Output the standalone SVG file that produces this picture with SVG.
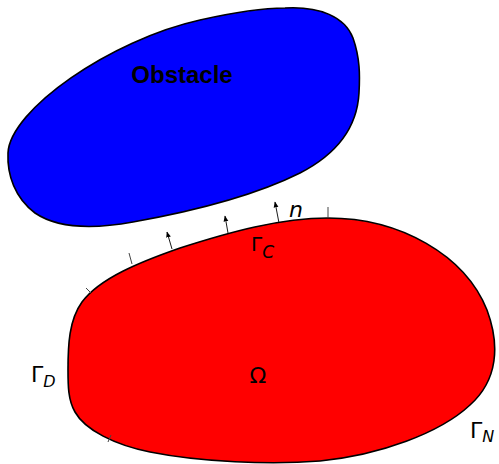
<svg xmlns="http://www.w3.org/2000/svg" width="499" height="464" viewBox="0 0 499 464">
<defs>
<marker id="ah" viewBox="0 0 10 10" refX="9" refY="5" markerWidth="6" markerHeight="6" orient="auto" markerUnits="userSpaceOnUse">
<path d="M0,1 L10,5 L0,9 Z" fill="#000"/>
</marker>
</defs>
<style>
.shape{stroke:#000;stroke-width:1.6}
.tick{stroke:#444;stroke-width:1;fill:none}
.arrow{stroke:#000;stroke-width:0.9;fill:none;marker-end:url(#ah)}
.math{font-family:"DejaVu Sans",sans-serif;fill:#000}
.lbl{font-family:"Liberation Sans",Arial,sans-serif;font-weight:bold;font-size:24px;fill:#000}
</style>
<g id="obstacle">
<path class="shape" fill="#0000ff" d="M 8,153 C 10,110 110,40 200,20 C 240,11 270,8 285,8 C 320,6 345,17 353,38 C 360,58 360,75 359,93 C 357,130 335,155 300,173 C 260,193 200,210 133,222 C 100,228 60,230 35,213 C 15,198 7,175 8,153 Z"/>
<text class="lbl" x="182" y="83" text-anchor="middle">Obstacle</text>
</g>
<g id="omega">
<path class="shape" fill="#ff0000" d="M 328,218 C 400,218 465,255 487,310 C 500,345 498,380 470,405 C 440,433 380,455 320,461 C 270,465 200,462 150,452 C 115,445 85,430 75,412 C 68,400 68,385 68,370 C 68,345 69,320 82,302 C 100,278 140,262 180,248 C 230,232 280,218 328,218 Z"/>
<text class="math" x="258" y="383" font-size="22" text-anchor="middle">Ω</text>
</g>
<g id="connectors">
<line class="tick" x1="86" y1="288" x2="91" y2="293"/>
<line class="tick" x1="129" y1="253" x2="132" y2="264"/>
<line class="tick" x1="328" y1="207" x2="328" y2="218"/>
<line class="tick" x1="108" y1="442" x2="111" y2="435"/>
<line class="arrow" x1="172" y1="249" x2="167" y2="232"/>
<line class="arrow" x1="228" y1="233" x2="225" y2="216"/>
<line class="arrow" x1="279" y1="223" x2="275" y2="202"/>
</g>
<g id="labels">
<text class="math" x="289" y="217" font-size="22" font-style="italic">n</text>
<text class="math" x="251" y="251" font-size="20">Γ<tspan font-size="17" font-style="italic" dy="7">C</tspan></text>
<text class="math" x="31" y="382" font-size="22">Γ<tspan font-size="16" font-style="italic" dy="5">D</tspan></text>
<text class="math" x="470" y="438" font-size="22">Γ<tspan font-size="16" font-style="italic" dy="4">N</tspan></text>
</g>
</svg>
